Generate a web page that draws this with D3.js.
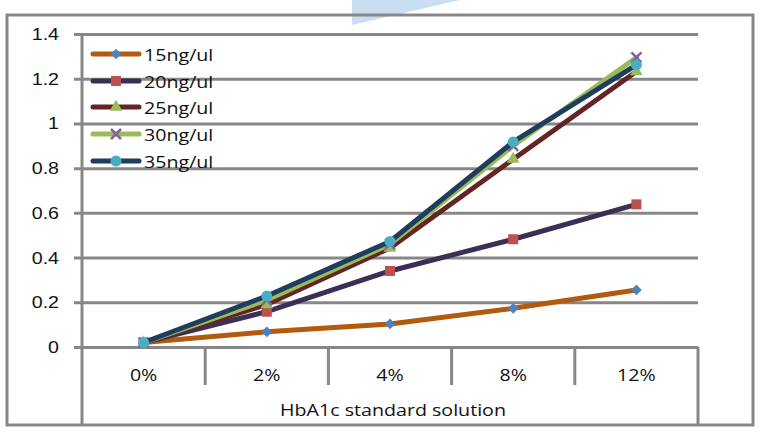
<!DOCTYPE html>
<html><head><meta charset="utf-8">
<script src="https://cdn.jsdelivr.net/npm/d3@7"></script>
<style>body{margin:0;background:#fff;}svg{display:block;font-family:"Open Sans",sans-serif;}</style>
</head><body><svg id="c" width="776" height="441"></svg>
<script>
const categories = ["0%","2%","4%","8%","12%"];
const yTicks = [0,0.2,0.4,0.6,0.8,1,1.2,1.4];
const seriesNames = ["15ng/ul","20ng/ul","25ng/ul","30ng/ul","35ng/ul"];
const s15 = [0.02,0.068,0.103,0.173,0.255];
const s20 = [0.02,0.158,0.34,0.482,0.638];
const s25 = [0.02,0.19,0.443,0.84,1.232];
const s30 = [0.02,0.21,0.46,0.90,1.295];
const s35 = [0.02,0.228,0.472,0.917,1.262];
const lineColors = ["#B25B0E","#3C2F55","#632523","#9BBB59","#1F3D5E"];
const markerColors = ["#4F81BD","#C0504D","#9BBB59","#8064A2","#4BACC6"];
const markerTypes = ["diamond","square","triangle","x","circle"];
const xTitle = "HbA1c standard solution";
const series = [s15,s20,s25,s30,s35];

const svg = d3.select("#c");
const L=82,R=698,T=34,B=347;
const x = d3.scaleBand().domain(categories).range([L,R]);
const y = d3.scaleLinear().domain([0,1.4]).range([B,T]);
const gray="#878787";
const SX=1.19, FS=16.5;
function txt(sel,px,py,anchor,str){
  return sel.append("text").attr("transform",`translate(${px},${py}) scale(${SX},1)`)
    .attr("text-anchor",anchor).attr("dominant-baseline","central").attr("font-size",FS).attr("fill","#111").text(str);
}

// watermark
svg.append("polygon").attr("points","352,0 460,0 352,25").attr("fill","#c9def0");

// outer frame
svg.append("rect").attr("x",7).attr("y",15).attr("width",746).attr("height",410).attr("fill","none").attr("stroke",gray).attr("stroke-width",3);

// gridlines + ticks
const yAxis = d3.axisLeft(y).tickValues(yTicks).tickSize(8).tickFormat(d=>d3.format("")(d));
const gy = svg.append("g").attr("transform",`translate(${L},0)`).call(yAxis);
gy.select(".domain").remove();
gy.selectAll(".tick line").attr("stroke",gray).attr("stroke-width",3).attr("x2",R-L).attr("x1",-8);
gy.selectAll(".tick text").remove();
gy.selectAll(".tick").each(function(d){ txt(d3.select(this),-23,0,"end",d3.format("")(d)); });

// left axis line
svg.append("line").attr("x1",L).attr("x2",L).attr("y1",T-1).attr("y2",425).attr("stroke",gray).attr("stroke-width",3);
svg.append("line").attr("x1",R).attr("x2",R).attr("y1",B).attr("y2",425).attr("stroke",gray).attr("stroke-width",3);
// category separators
categories.slice(1).forEach(c=>{
  svg.append("line").attr("x1",x(c)).attr("x2",x(c)).attr("y1",B).attr("y2",385).attr("stroke",gray).attr("stroke-width",3);
});
// category labels
const cx = d=>x(d)+x.bandwidth()/2;
categories.forEach(c=>txt(svg,cx(c),375,"middle",c));
txt(svg,393,410,"middle",xTitle);

function marker(g,type,color,px,py){
  if(type==="diamond") g.append("rect").attr("x",-3.8).attr("y",-3.8).attr("width",7.6).attr("height",7.6).attr("transform",`translate(${px},${py}) rotate(45)`).attr("fill",color);
  else if(type==="square") g.append("rect").attr("x",px-5).attr("y",py-5).attr("width",10).attr("height",10).attr("fill",color);
  else if(type==="triangle") g.append("path").attr("d",d3.symbol(d3.symbolTriangle,70)()).attr("transform",`translate(${px},${py})`).attr("fill",color);
  else if(type==="x") g.append("path").attr("d",`M${px-5},${py-5}L${px+5},${py+5}M${px-5},${py+5}L${px+5},${py-5}`).attr("stroke",color).attr("stroke-width",2.5);
  else g.append("circle").attr("cx",px).attr("cy",py).attr("r",5.5).attr("fill",color);
}
const line = d3.line().x((d,i)=>cx(categories[i])).y(d=>y(d));
series.forEach((s,k)=>{
  const g=svg.append("g");
  g.append("path").datum(s).attr("d",line).attr("fill","none").attr("stroke",lineColors[k]).attr("stroke-width",5).attr("stroke-linejoin","round").attr("stroke-linecap","round");
  s.forEach((v,i)=>marker(g,markerTypes[k],markerColors[k],cx(categories[i]),y(v)));
});

// legend
const legY=[54,81,107,134,161];
seriesNames.forEach((n,k)=>{
  const g=svg.append("g");
  g.append("line").attr("x1",93).attr("x2",139).attr("y1",legY[k]).attr("y2",legY[k]).attr("stroke",lineColors[k]).attr("stroke-width",5).attr("stroke-linecap","round");
  marker(g,markerTypes[k],markerColors[k],116,legY[k]);
  txt(g,144,legY[k]+1,"start",n);
});
</script></body></html>
